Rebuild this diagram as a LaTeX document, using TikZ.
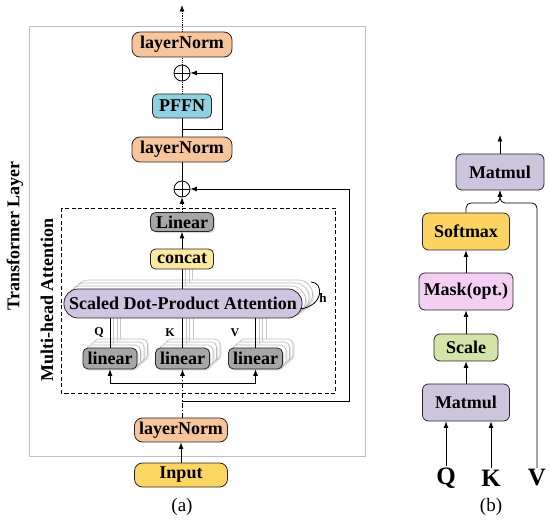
\documentclass[tikz,border=0pt]{standalone}
\usepackage{fontspec}
\setmainfont{Liberation Serif}
\usetikzlibrary{positioning,arrows.meta,shadows}

\definecolor{lnfill}{HTML}{F8C49B}
\definecolor{pffnfill}{HTML}{8FD1E1}
\definecolor{linfill}{HTML}{A6A6A6}
\definecolor{catfill}{HTML}{FDE8A0}
\definecolor{sdpafill}{HTML}{CFC5E1}
\definecolor{infill}{HTML}{FDD563}
\definecolor{matfill}{HTML}{CDC4DE}
\definecolor{softfill}{HTML}{FDD461}
\definecolor{maskfill}{HTML}{F3CFF3}
\definecolor{scalefill}{HTML}{D4E3A7}

\begin{document}
\begin{tikzpicture}[
	x=1pt, y=-1pt,
	line width=0.8pt,
	ar/.style={->,>={Latex[length=6.5pt,width=5pt]}},
	lbl/.style={font=\bfseries\fontsize{18}{21}\selectfont},
	blk/.style={
	  draw=black!85,
	  inner sep=0pt,
	  lbl
	  },
	lnorm/.style={blk, fill=lnfill, minimum width=100pt, minimum height=25pt, rounded corners=8pt},
	linbox/.style={blk, fill=linfill, rounded corners=5pt,
	  drop shadow={opacity=.3, shadow xshift=1.5pt, shadow yshift=-1.5pt}},
	stackbox/.style={draw=gray!55, fill=white, line width=0.6pt, inner sep=0pt,
	  drop shadow={opacity=.2, shadow xshift=1.5pt, shadow yshift=-1.5pt}},
	bbox/.style={blk, rounded corners=6pt},
	addc/.style={
	  draw, circle, minimum size=16pt, inner sep=0pt,
	  path picture={
	    \draw (path picture bounding box.north) -- (path picture bounding box.south)
	          (path picture bounding box.west) -- (path picture bounding box.east);
	  }
	  },
	shline/.style={draw=gray!45, line width=0.6pt},
	dd/.style={dash pattern=on 5pt off 2pt on 1pt off 2pt}
	]
		\useasboundingbox (0,0) rectangle (550,524);

		% (a) transformer layer
		\draw[gray!50] (29,26) rectangle (365,456);
		\node[lbl, rotate=90] (layerlbl) at (15,236) {Transformer Layer};
		\draw[dash pattern=on 4pt off 2.5pt] (61,208) rectangle (335,393);
		\node[lbl, rotate=90] (mhalbl) at (47,300) {Multi-head Attention};

		% stacked heads behind
		\foreach \k in {3,2,1} {
			\node[stackbox, rounded corners=14pt, minimum width=238pt, minimum height=29pt]
				at (183+3.5*\k, 303.5-3*\k) {};
			\foreach \xx in {110,182.5,255.5}
				\node[stackbox, rounded corners=5pt, minimum width=54pt, minimum height=21pt]
					at (\xx+3.5*\k, 358.5-3*\k) {};
		}
		\foreach \k in {1,2,3} {
			\foreach \xx in {110,182.5,255.5}
				\draw[shline] (\xx+3.5*\k, 348-3*\k) -- (\xx+3.5*\k, 318-3*\k);
			\draw[shline] (182+3.5*\k, 289-3*\k) -- (182+3.5*\k, 269);
		}

		\node[lnorm] (lnTop) at (182,44.5) {layerNorm};
		\node[addc] (addTop) at (182,73) {};
		\node[blk, fill=pffnfill, minimum width=59pt, minimum height=24pt, rounded corners=5pt]
			(pffn) at (182,106) {PFFN};
		\node[lnorm] (lnMid) at (182,149.5) {layerNorm};
		\node[addc] (addMid) at (182,189) {};
		\node[linbox, minimum width=63pt, minimum height=19pt] (linOut) at (182,222) {Linear};
		\node[blk, fill=catfill, minimum width=63pt, minimum height=20pt, rounded corners=5pt]
			(concat) at (182,259) {concat};
		\node[blk, fill=sdpafill, minimum width=238pt, minimum height=29pt, rounded corners=14pt]
			(sdpa) at (183,303.5) {Scaled Dot-Product Attention};
		\node[linbox, minimum width=54pt, minimum height=21pt] (linQ) at (110,358.5) {linear};
		\node[linbox, minimum width=54pt, minimum height=21pt] (linK) at (182.5,358.5) {linear};
		\node[linbox, minimum width=54pt, minimum height=21pt] (linV) at (255.5,358.5) {linear};
		\node[lnorm, minimum width=93pt, minimum height=24pt] (lnIn) at (181,430) {layerNorm};
		\node[blk, fill=infill, minimum width=93pt, minimum height=24pt, rounded corners=8pt]
			(input) at (181,475) {Input};

		\node[font=\bfseries\fontsize{12}{14}\selectfont] (qA) at (99,333) {Q};
		\node[font=\bfseries\fontsize{12}{14}\selectfont] (kA) at (170,333) {K};
		\node[font=\bfseries\fontsize{12}{14}\selectfont] (vA) at (235,333) {V};
		\node[font=\bfseries\fontsize{13}{15}\selectfont] (hA) at (323,298) {h};

		\coordinate (out) at (182,5);
		\coordinate (split1) at (182,129);
		\coordinate (res1) at (222,73);
		\coordinate (split) at (182,401);
		\coordinate (res2) at (349,189);
		\coordinate (bar) at (182.5,383);
		\coordinate (loopA) at (300,309);
		\coordinate (loopB) at (311,282);

		\draw[ar, densely dotted] (lnTop) -- (out);
		\draw[densely dotted] (addTop) -- (lnTop);
		\draw[densely dotted] (pffn) -- (addTop);
		\draw (lnMid) -- (pffn);
		\draw[ar] (split1) -| (res1) -- (addTop);
		\draw (addMid) -- (lnMid);
		\draw[ar, densely dotted] (linOut) -- (addMid);
		\draw[ar] (concat) -- (linOut);
		\draw (sdpa.north -| concat) -- (concat);
		\draw (linQ) -- (linQ |- sdpa.south);
		\draw (linK) -- (linK |- sdpa.south);
		\draw (linV) -- (linV |- sdpa.south);
		\draw (loopA) .. controls (324,306) and (324,282) .. (loopB);
		\draw[ar, dd] (lnIn.north -| linK) -- (linK);
		\draw[ar] (bar) -| (linQ);
		\draw[ar] (bar) -| (linV);
		\draw[ar] (split) -| (res2) -- (addMid);
		\draw[ar] (input) -- (lnIn);

		\node[font=\fontsize{19}{22}\selectfont] (capA) at (182,507) {(a)};

		% (b) scaled dot-product attention
		\node[bbox, fill=matfill, minimum width=88pt, minimum height=36pt] (mmTop) at (500,172) {Matmul};
		\node[bbox, fill=softfill, minimum width=87pt, minimum height=37pt] (softmax) at (466,231.5) {Softmax};
		\node[bbox, fill=maskfill, minimum width=94pt, minimum height=37pt] (mask) at (466,291.5) {Mask(opt.)};
		\node[bbox, fill=scalefill, minimum width=64pt, minimum height=27pt] (scale) at (466,347.5) {Scale};
		\node[bbox, fill=matfill, minimum width=87pt, minimum height=37pt] (mmBot) at (466,402.5) {Matmul};

		\node[font=\bfseries\fontsize{25}{28}\selectfont, inner sep=1pt] (qB) at (446,478) {Q};
		\node[font=\bfseries\fontsize{25}{28}\selectfont, inner sep=1pt] (kB) at (491,478) {K};
		\node[font=\bfseries\fontsize{25}{28}\selectfont, inner sep=1pt] (vB) at (537,478) {V};

		\coordinate (outB) at (500,135);
		\coordinate (joinB) at (500,203);

		\draw[ar] (mmTop) -- (outB);
		\draw[ar, rounded corners=5pt] (softmax) |- (joinB) -- (mmTop);
		\draw[ar, rounded corners=5pt] (vB) |- (joinB) -- (mmTop);
		\draw[ar] (mask) -- (softmax);
		\draw[ar] (scale) -- (mask);
		\draw[ar] (mmBot) -- (scale);
		\draw[ar] (qB) -- (qB |- mmBot.south);
		\draw[ar] (kB) -- (kB |- mmBot.south);

		\node[font=\fontsize{19}{22}\selectfont] (capB) at (491,507) {(b)};
	\end{tikzpicture}
\end{document}
